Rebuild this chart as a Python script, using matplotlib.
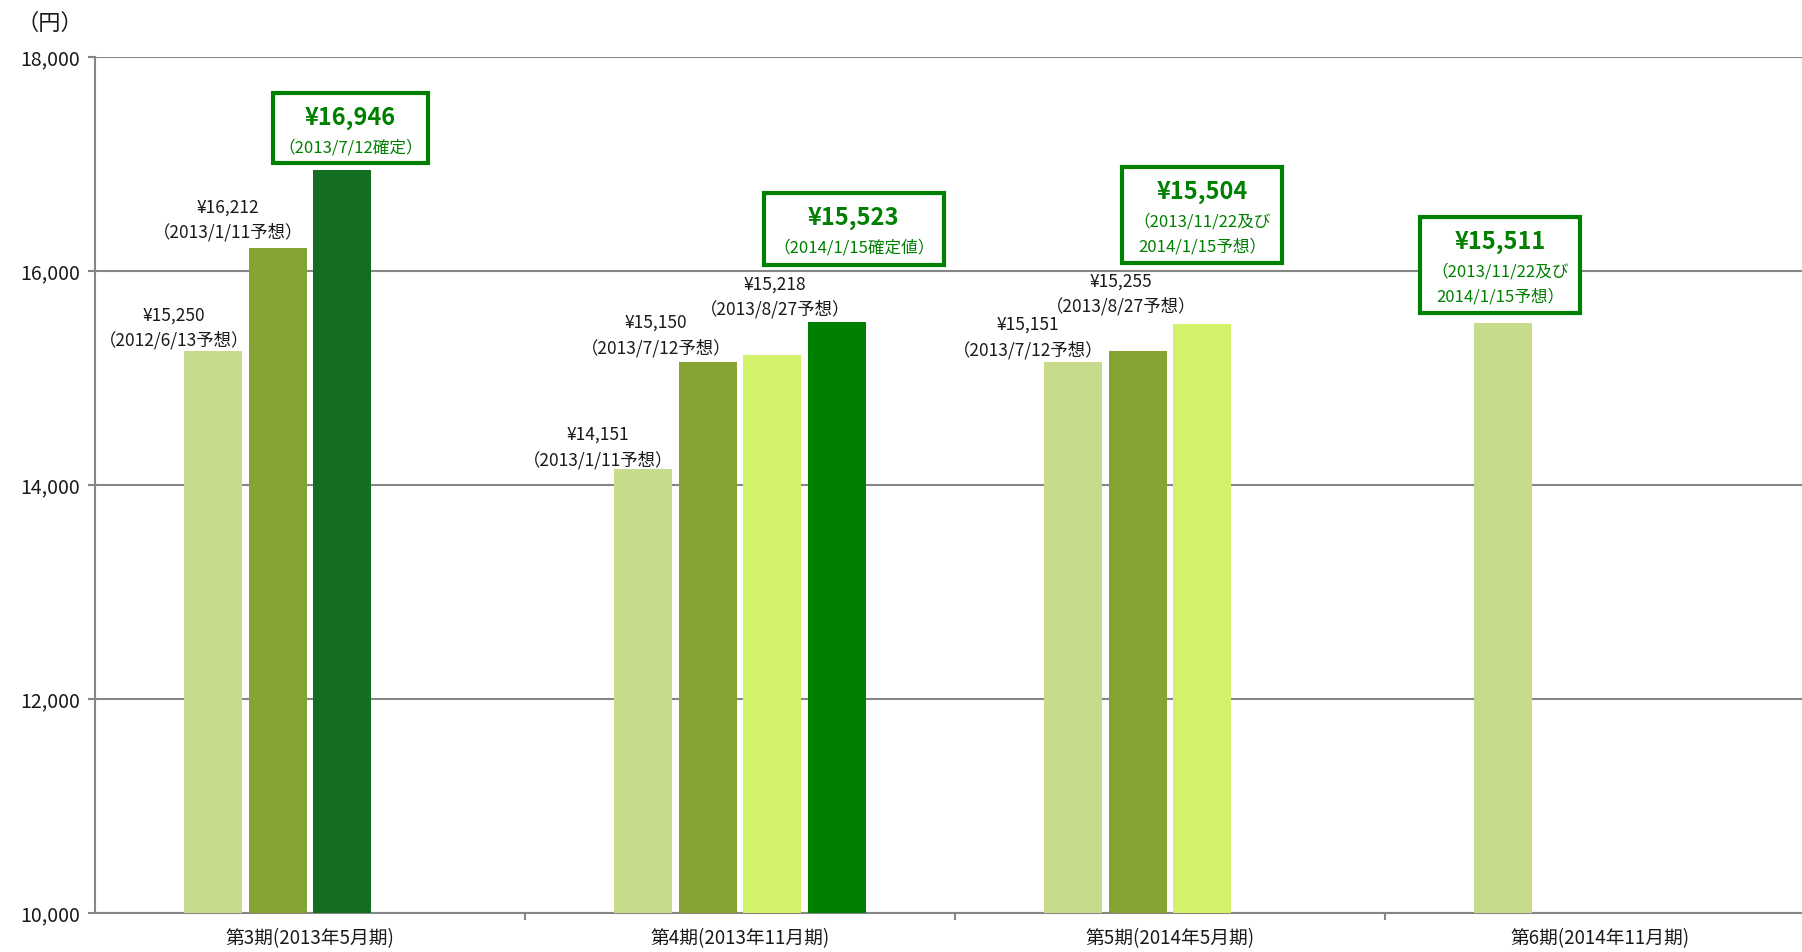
import matplotlib
matplotlib.use('Agg')
import matplotlib.pyplot as plt
from matplotlib.patches import Rectangle
from matplotlib.transforms import IdentityTransform

plt.rcParams['font.family'] = ['Noto Sans CJK JP', 'DejaVu Sans']

# 期ごとの分配金（円）と発表日
periods = ['第3期(2013年5月期)', '第4期(2013年11月期)', '第5期(2014年5月期)', '第6期(2014年11月期)']
values = [
    [15250, 16212, 16946],
    [14151, 15150, 15218, 15523],
    [15151, 15255, 15504],
    [15511],
]
notes = [
    ['2012/6/13予想', '2013/1/11予想', '2013/7/12確定'],
    ['2013/1/11予想', '2013/7/12予想', '2013/8/27予想', '2014/1/15確定値'],
    ['2013/7/12予想', '2013/8/27予想', '2013/11/22及び\n2014/1/15予想'],
    ['2013/11/22及び\n2014/1/15予想'],
]
y_ticks = [10000, 12000, 14000, 16000, 18000]

# 色とラベル位置（ピクセル単位）
light, olive, dark, yellow, green = '#C6DB8C', '#84A333', '#146E1F', '#D3F26B', '#008000'
bar_colors = [
    [light, olive, dark],
    [light, olive, yellow, green],
    [light, olive, yellow],
    [light],
]
# 通常ラベル: (x方向のずれ, 棒上端から2行目中心までの距離)
plain_offsets = [
    [(-39, 11), (-50, 16)],
    [(-45, 9), (-52, 14), (3, 45)],
    [(-45, 12), (-17, 44)],
    [],
]
# 枠付きラベル: (x方向のずれ, 棒上端からの隙間, 幅, 高さ)
box_layout = [(8, 7, 155, 70), (17, 57, 180, 72), (0, 61, 160, 96), (-3, 10, 160, 96)]

W, H = 1802, 952
fig = plt.figure(figsize=(W / 100, H / 100), dpi=100)
ax = fig.add_axes([95 / W, 39 / H, 1720 / W, 856 / H])

step = 0.15
width = 0.135
grid_c = '#868686'
text_c = '#1a1a1a'

bar_x = []
for g, vals in enumerate(values):
    xs = [g + (k - 1.5) * step for k in range(len(vals))]
    bar_x.append(xs)
    ax.bar(xs, vals, width=width, color=bar_colors[g], zorder=3)

ax.set_xlim(-0.5, 3.5)
ax.set_ylim(10000, 18000)
ax.set_yticks(y_ticks)
ax.set_yticklabels([f'{v:,}' for v in y_ticks], fontsize=14, color=text_c)
ax.yaxis.grid(True, color=grid_c, linewidth=1.5, zorder=0)
ax.tick_params(axis='y', length=5, color=grid_c, width=1.5, pad=6)

ax.set_xticks([0.5, 1.5, 2.5])
ax.set_xticklabels([])
ax.tick_params(axis='x', length=5, color=grid_c, width=1.5)
for g, name in enumerate(periods):
    ax.text(g, -26 / 856, name, transform=ax.get_xaxis_transform(), ha='center', va='center',
            fontsize=13.5, color=text_c)

for side in ['top', 'right']:
    ax.spines[side].set_visible(False)
for side in ['left', 'bottom']:
    ax.spines[side].set_color(grid_c)
    ax.spines[side].set_linewidth(1.5)

fig.text(50 / W, 1 - 23 / H, '（円）', ha='center', va='center', fontsize=16, color=text_c)

ident = IdentityTransform()
for g, vals in enumerate(values):
    last = len(vals) - 1
    for k, v in enumerate(vals):
        px, py = ax.transData.transform((bar_x[g][k], v))
        if k < last:
            dx, dy = plain_offsets[g][k]
            cx = px + dx
            fig.text(cx, py + dy, f'（{notes[g][k]}）', transform=ident, ha='center', va='center',
                     fontsize=12.5, color=text_c)
            fig.text(cx, py + dy + 25, f'¥{v:,}', transform=ident, ha='center', va='center',
                     fontsize=12.5, color=text_c)
        else:
            dx, gap, bw, bh = box_layout[g]
            cx = px + dx
            bottom = py + gap
            top = bottom + bh
            fig.add_artist(Rectangle((cx - bw / 2, bottom), bw, bh, transform=ident,
                                     facecolor='white', edgecolor=green, linewidth=3, zorder=5))
            fig.text(cx, top - 25, f'¥{v:,}', transform=ident, ha='center', va='center',
                     fontsize=17, fontweight='bold', color=green, zorder=6)
            for i, line in enumerate(f'（{notes[g][k]}）'.split('\n')):
                fig.text(cx, top - 55 - 25 * i, line, transform=ident, ha='center', va='center',
                         fontsize=12, color=green, zorder=6)

fig.savefig('out.png', dpi=100)
